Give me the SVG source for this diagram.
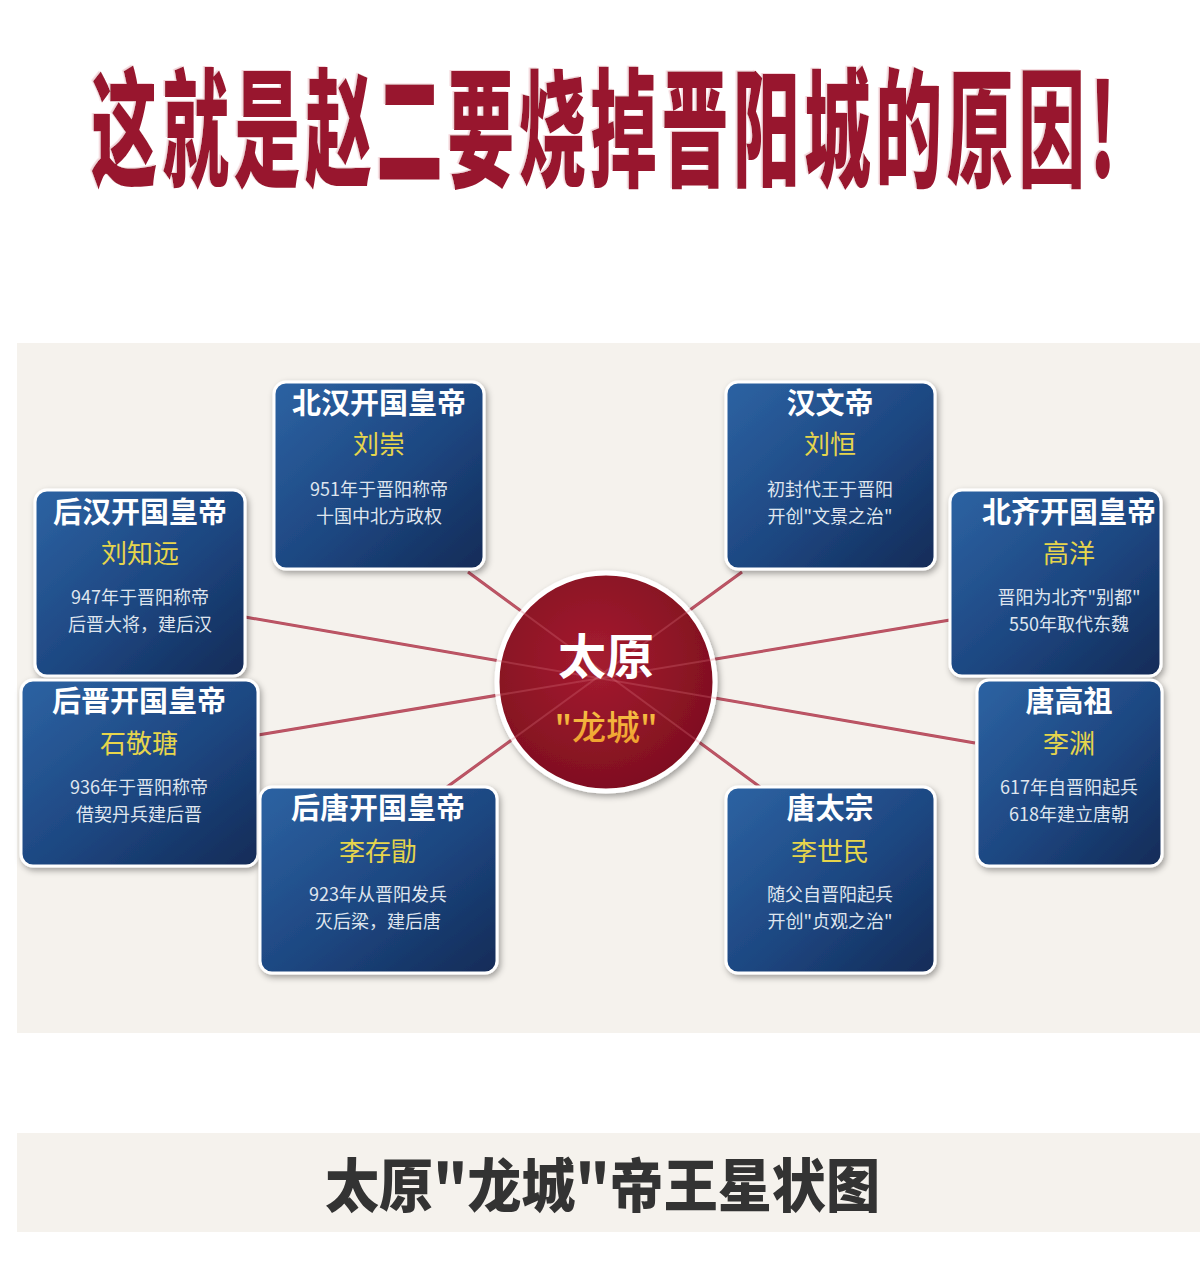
<svg xmlns="http://www.w3.org/2000/svg" width="1200" height="1262" viewBox="0 0 1200 1262">
<defs>
<linearGradient id="boxg" x1="0" y1="0" x2="1" y2="1">
<stop offset="0" stop-color="#2d63a3"/>
<stop offset="0.55" stop-color="#1d4680"/>
<stop offset="1" stop-color="#122b57"/>
</linearGradient>
<radialGradient id="circg" cx="0.45" cy="0.4" r="0.65">
<stop offset="0" stop-color="#a51c30"/>
<stop offset="1" stop-color="#7c0e1e"/>
</radialGradient>
<linearGradient id="goldg" x1="0" y1="0" x2="0" y2="1">
<stop offset="0" stop-color="#f7c84a"/>
<stop offset="1" stop-color="#ee9a2a"/>
</linearGradient>
<filter id="shadow" x="-10%" y="-10%" width="125%" height="125%">
<feDropShadow dx="2" dy="3" stdDeviation="3" flood-color="#000" flood-opacity="0.35"/>
</filter>
<filter id="tshadow" x="-5%" y="-10%" width="110%" height="120%">
<feDropShadow dx="-3" dy="-1" stdDeviation="0.6" flood-color="#f3d3d8" flood-opacity="1"/>
</filter>
</defs>
<style>
.cjk{font-family:"Noto Sans CJK SC","Noto Sans",sans-serif}
.box{fill:url(#boxg);stroke:#ffffff;stroke-width:3;filter:url(#shadow)}
.t{font-size:29px;font-weight:700;fill:#ffffff;text-anchor:middle}
.n{font-size:26px;font-weight:400;fill:#e6d54c;text-anchor:middle}
.d{font-size:18px;font-weight:400;fill:#dfe5ee;text-anchor:middle}
.ln{stroke:#b14a5b;stroke-width:3;fill:none}
.lnf{stroke:#d9707f;stroke-width:2;fill:none;opacity:0.3}
</style>
<rect x="0" y="0" width="1200" height="1262" fill="#ffffff"/>
<g transform="translate(91,177) scale(0.52,1)">
<text class="cjk" x="0" y="0" font-size="128" font-weight="900" fill="#98182f" filter="url(#tshadow)" textLength="1971" lengthAdjust="spacing">这就是赵二要烧掉晋阳城的原因!</text>
</g>
<rect x="17" y="343" width="1183" height="690" fill="#f5f2ed"/>
<g id="connectors">
<line class="ln" x1="468" y1="572" x2="760" y2="787"/>
<line class="ln" x1="742" y1="572" x2="447" y2="787"/>
<line class="ln" x1="245" y1="617" x2="975" y2="743"/>
<line class="ln" x1="258" y1="735" x2="950" y2="620"/>
</g>
<g id="center">
<circle cx="606" cy="682" r="109" fill="url(#circg)" stroke="#ffffff" stroke-width="5" filter="url(#shadow)"/>
<line class="lnf" x1="468" y1="572" x2="760" y2="787"/>
<line class="lnf" x1="742" y1="572" x2="447" y2="787"/>
<line class="lnf" x1="245" y1="617" x2="975" y2="743"/>
<line class="lnf" x1="258" y1="735" x2="950" y2="620"/>
<text class="cjk" x="606" y="674" font-size="48" font-weight="700" fill="#ffffff" text-anchor="middle">太原</text>
<text class="cjk" x="606" y="740" font-size="34" font-weight="500" fill="url(#goldg)" text-anchor="middle">"龙城"</text>
</g>
<g id="beihan">
<rect class="box" x="274" y="382" width="210" height="187" rx="12"/>
<text class="cjk t" x="379" y="414">北汉开国皇帝</text>
<text class="cjk n" x="379" y="454">刘崇</text>
<text class="cjk d" x="379" y="496">951年于晋阳称帝</text>
<text class="cjk d" x="379" y="523">十国中北方政权</text>
</g>
<g id="hanwendi">
<rect class="box" x="726" y="382" width="209" height="187" rx="12"/>
<text class="cjk t" x="830" y="414">汉文帝</text>
<text class="cjk n" x="830" y="454">刘恒</text>
<text class="cjk d" x="830" y="496">初封代王于晋阳</text>
<text class="cjk d" x="830" y="523">开创"文景之治"</text>
</g>
<g id="houhan">
<rect class="box" x="35" y="490" width="210" height="186" rx="12"/>
<text class="cjk t" x="140" y="523">后汉开国皇帝</text>
<text class="cjk n" x="140" y="563">刘知远</text>
<text class="cjk d" x="140" y="604">947年于晋阳称帝</text>
<text class="cjk d" x="140" y="631">后晋大将，建后汉</text>
</g>
<g id="beiqi">
<rect class="box" x="950" y="490" width="211" height="186" rx="12"/>
<text class="cjk t" x="1069" y="523">北齐开国皇帝</text>
<text class="cjk n" x="1069" y="563">高洋</text>
<text class="cjk d" x="1069" y="604">晋阳为北齐"别都"</text>
<text class="cjk d" x="1069" y="631">550年取代东魏</text>
</g>
<g id="houjin">
<rect class="box" x="21" y="680" width="237" height="186" rx="12"/>
<text class="cjk t" x="139" y="712">后晋开国皇帝</text>
<text class="cjk n" x="139" y="753">石敬瑭</text>
<text class="cjk d" x="139" y="794">936年于晋阳称帝</text>
<text class="cjk d" x="139" y="821">借契丹兵建后晋</text>
</g>
<g id="tanggaozu">
<rect class="box" x="977" y="680" width="185" height="186" rx="12"/>
<text class="cjk t" x="1069" y="712">唐高祖</text>
<text class="cjk n" x="1069" y="753">李渊</text>
<text class="cjk d" x="1069" y="794">617年自晋阳起兵</text>
<text class="cjk d" x="1069" y="821">618年建立唐朝</text>
</g>
<g id="houtang">
<rect class="box" x="260" y="787" width="237" height="186" rx="12"/>
<text class="cjk t" x="378" y="819">后唐开国皇帝</text>
<text class="cjk n" x="378" y="861">李存勖</text>
<text class="cjk d" x="378" y="901">923年从晋阳发兵</text>
<text class="cjk d" x="378" y="928">灭后梁，建后唐</text>
</g>
<g id="tangtaizong">
<rect class="box" x="726" y="787" width="209" height="186" rx="12"/>
<text class="cjk t" x="830" y="819">唐太宗</text>
<text class="cjk n" x="830" y="861">李世民</text>
<text class="cjk d" x="830" y="901">随父自晋阳起兵</text>
<text class="cjk d" x="830" y="928">开创"贞观之治"</text>
</g>
<rect x="17" y="1133" width="1183" height="99" fill="#f5f2ed"/>
<text class="cjk" x="325" y="1207" font-size="58" font-weight="900" fill="#333333" textLength="555" lengthAdjust="spacingAndGlyphs">太原"龙城"帝王星状图</text>
</svg>
